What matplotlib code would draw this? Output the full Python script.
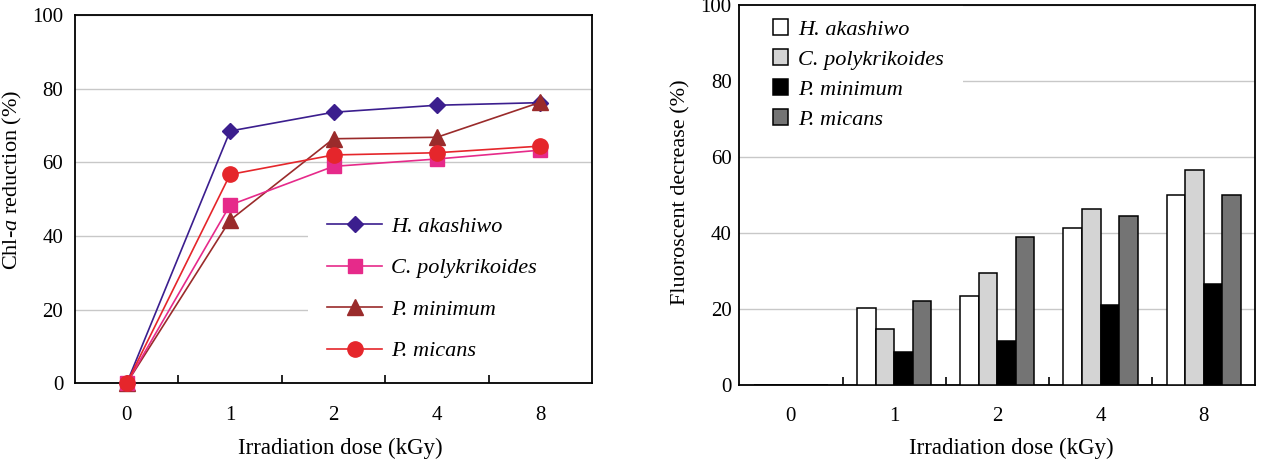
import matplotlib
matplotlib.use('Agg')
import numpy as np
import matplotlib.pyplot as plt
from matplotlib.patches import Rectangle, Patch
from matplotlib.ticker import FixedLocator

plt.rcParams['font.family'] = 'Liberation Serif'
plt.rcParams['mathtext.fontset'] = 'custom'
plt.rcParams['mathtext.rm'] = 'Liberation Serif'
plt.rcParams['mathtext.it'] = 'Liberation Serif:italic'

doses = ['0', '1', '2', '4', '8']
species = ['H. akashiwo', 'C. polykrikoides', 'P. minimum', 'P. micans']

# Chl-a reduction (%)
chl_akashiwo = [0, 68.5, 73.6, 75.5, 76.2]
chl_polykrikoides = [0, 48.4, 58.9, 60.9, 63.3]
chl_minimum = [0, 44.3, 66.4, 66.8, 76.3]
chl_micans = [0, 56.7, 62.0, 62.6, 64.4]

# fluorescence decrease (%)
fl_akashiwo = [0, 20.2, 23.3, 41.3, 49.9]
fl_polykrikoides = [0, 14.7, 29.5, 46.2, 56.7]
fl_minimum = [0, 8.6, 11.7, 21.0, 26.5]
fl_micans = [0, 22.2, 38.9, 44.5, 49.9]

line_colors = ['#3b1e8e', '#e62a8a', '#9a2b2b', '#e5262b']
line_markers = ['D', 's', '^', 'o']
marker_sizes = [8.5, 10.5, 11.5, 11]
line_z = [3, 5, 4, 6]
bar_colors = ['white', '#d4d4d4', 'black', '#747474']

TICK_FS = 15
LABEL_FS = 16.5
LEG_FS = 16
fig = plt.figure(figsize=(12.62, 4.62), dpi=100)
x = np.arange(len(doses))

# ---- left panel: line chart
ax1 = fig.add_axes([75 / 1262, 1 - 383.3 / 462, 517 / 1262, 368.3 / 462])
series = [chl_akashiwo, chl_polykrikoides, chl_minimum, chl_micans]
handles = []
for vals, name, c, m, ms, z in zip(series, species, line_colors, line_markers, marker_sizes, line_z):
    h, = ax1.plot(x, vals, color=c, marker=m, markersize=ms, lw=1.2, label=name,
                  zorder=z, clip_on=False)
    handles.append(h)
ax1.set_xlim(-0.5, 4.5)
ax1.set_ylim(0, 100)
ax1.set_yticks(range(0, 101, 20))
ax1.set_xticks(x)
ax1.set_xticklabels(doses)
ax1.xaxis.set_minor_locator(FixedLocator(x[:-1] + 0.5))
ax1.tick_params(axis='x', which='major', length=0, pad=16, labelsize=TICK_FS)
ax1.tick_params(axis='x', which='minor', direction='in', length=5.5, width=1.2)
ax1.tick_params(axis='y', length=0, pad=8.5, labelsize=TICK_FS)
ax1.grid(axis='y', color='#c8c8c8', lw=1)
ax1.set_axisbelow(True)
ax1.add_patch(Rectangle((0.451, 0.03), 0.549, 0.42, transform=ax1.transAxes,
                        facecolor='white', edgecolor='none', zorder=1))
for s in ax1.spines.values():
    s.set_linewidth(1.3)
ax1.set_ylabel('Chl-$\\it{a}$ reduction (%)', fontsize=16)
ax1.yaxis.set_label_coords(-0.098, 0.552)
ax1.set_xlabel('Irradiation dose (kGy)', fontsize=LABEL_FS)
ax1.xaxis.set_label_coords(0.5126, -0.147)
ax1.legend(handles=handles, loc='upper left', bbox_to_anchor=(0.487, 0.453),
           frameon=False, prop={'style': 'italic', 'size': LEG_FS},
           handlelength=2.5, handletextpad=0.4, labelspacing=0.94,
           borderaxespad=0, borderpad=0)

# ---- right panel: bar chart
ax2 = fig.add_axes([739.3 / 1262, 1 - 385 / 462, 516 / 1262, 380 / 462])
bars = [fl_akashiwo, fl_polykrikoides, fl_minimum, fl_micans]
w = 0.18
for i, (vals, name, c) in enumerate(zip(bars, species, bar_colors)):
    ax2.bar(x + (i - 1.5) * w, vals, width=w, color=c, edgecolor='black', lw=1.1,
            label=name, zorder=3)
ax2.set_xlim(-0.5, 4.5)
ax2.set_ylim(0, 100)
ax2.set_yticks(range(0, 101, 20))
ax2.set_xticks(x)
ax2.set_xticklabels(doses)
ax2.xaxis.set_minor_locator(FixedLocator(x[:-1] + 0.5))
ax2.tick_params(axis='x', which='major', length=0, pad=16, labelsize=TICK_FS)
ax2.tick_params(axis='x', which='minor', direction='in', length=6, width=1.2)
ax2.tick_params(axis='y', length=0, pad=5.5, labelsize=TICK_FS)
ax2.grid(axis='y', color='#c8c8c8', lw=1)
ax2.set_axisbelow(True)
ax2.add_patch(Rectangle((0.0, 0.65), 0.434, 0.35, transform=ax2.transAxes,
                        facecolor='white', edgecolor='none', zorder=1))
for s in ax2.spines.values():
    s.set_linewidth(1.3)
ax2.set_ylabel('Fluoroscent decrease (%)', fontsize=16)
ax2.yaxis.set_label_coords(-0.094, 0.508)
ax2.set_xlabel('Irradiation dose (kGy)', fontsize=LABEL_FS)
ax2.xaxis.set_label_coords(0.5266, -0.138)
bar_handles = [Patch(facecolor=c, edgecolor='black', lw=1.1) for c in bar_colors]
ax2.legend(bar_handles, species, loc='upper left', bbox_to_anchor=(0.066, 0.963),
           frameon=False, prop={'style': 'italic', 'size': LEG_FS},
           handlelength=0.68, handleheight=0.75, handletextpad=0.42,
           labelspacing=0.41, borderaxespad=0, borderpad=0)

fig.savefig('out.png', dpi=100)
